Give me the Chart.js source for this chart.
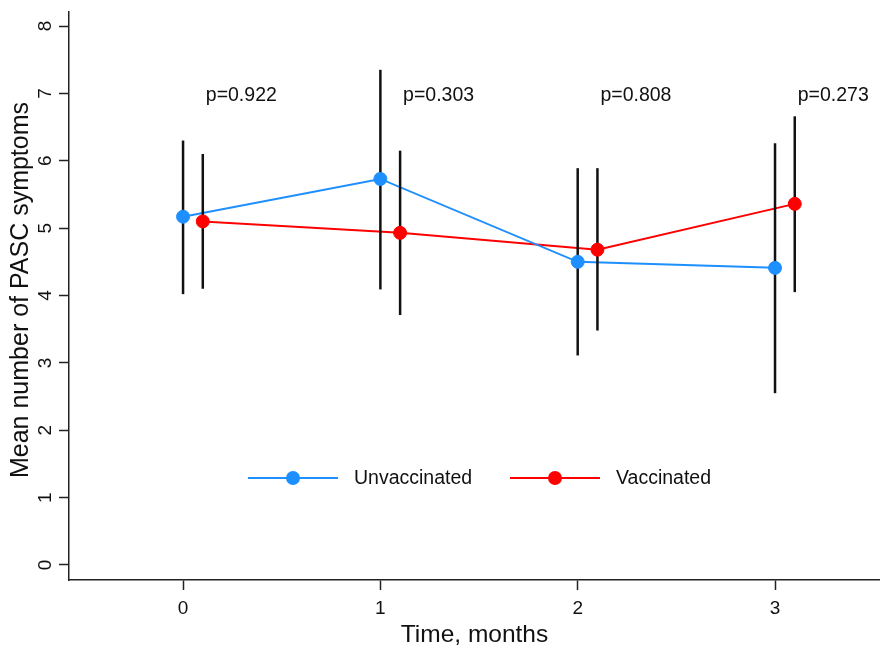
<!DOCTYPE html>
<html>
<head>
<meta charset="utf-8">
<script src="https://cdn.jsdelivr.net/npm/chart.js@4.4.1/dist/chart.umd.min.js"></script>
<style>
  html, body { margin: 0; padding: 0; background: #ffffff; }
  #wrap { width: 880px; height: 648px; position: relative; }
</style>
</head>
<body>
<div id="wrap"><canvas id="c"></canvas></div>
<script>
// ---- data ----
const months = [0, 1, 2, 3];
const vaxOffset = 0.1;
const unvaxMean  = [5.17, 5.73, 4.50, 4.41];
const unvaxLower = [4.02, 4.09, 3.11, 2.55];
const unvaxUpper = [6.30, 7.35, 5.89, 6.26];
const vaxMean    = [5.10, 4.93, 4.68, 5.36];
const vaxLower   = [4.10, 3.71, 3.48, 4.05];
const vaxUpper   = [6.10, 6.15, 5.89, 6.66];
const pLabels    = ['p=0.922', 'p=0.303', 'p=0.808', 'p=0.273'];
const pLabelY    = 6.97;
const xTicks = [0, 1, 2, 3];
const yTicks = [0, 1, 2, 3, 4, 5, 6, 7, 8];
const seriesNames = ['Unvaccinated', 'Vaccinated'];
const seriesColors = ['#1E8FFF', '#FF0000'];
const xTitle = 'Time, months';
const yTitle = 'Mean number of PASC symptoms';

const FONT = "'Liberation Sans', Arial, sans-serif";

const unvaxX = months.slice();
const vaxX = months.map(m => m + vaxOffset);

function pts(xs, ys) { return xs.map((x, i) => ({ x: x, y: ys[i] })); }

const datasets = [];
// points on top
datasets.push({ label: seriesNames[0], data: pts(unvaxX, unvaxMean), showLine: false,
  pointRadius: 6.5, pointBackgroundColor: seriesColors[0], pointBorderColor: seriesColors[0], pointBorderWidth: 1, order: 0 });
datasets.push({ label: seriesNames[1], data: pts(vaxX, vaxMean), showLine: false,
  pointRadius: 6.5, pointBackgroundColor: seriesColors[1], pointBorderColor: seriesColors[1], pointBorderWidth: 1, order: 0 });
// error bars
function addBars(xs, lo, hi) {
  xs.forEach((x, i) => {
    datasets.push({ label: 'ci', data: [{ x: x, y: lo[i] }, { x: x, y: hi[i] }], showLine: true,
      borderColor: '#111111', borderWidth: 2.5, pointRadius: 0, order: 1 });
  });
}
addBars(unvaxX, unvaxLower, unvaxUpper);
addBars(vaxX, vaxLower, vaxUpper);
// connecting lines underneath
datasets.push({ label: 'l0', data: pts(unvaxX, unvaxMean), showLine: true, borderColor: seriesColors[0],
  borderWidth: 2, pointRadius: 0, order: 2 });
datasets.push({ label: 'l1', data: pts(vaxX, vaxMean), showLine: true, borderColor: seriesColors[1],
  borderWidth: 2, pointRadius: 0, order: 2 });

const annotPlugin = {
  id: 'annot',
  afterDatasetsDraw(chart) {
    const ctx = chart.ctx;
    const xs = chart.scales.x, ys = chart.scales.y;
    ctx.save();
    ctx.fillStyle = '#111111';
    ctx.font = '19.5px ' + FONT;
    ctx.textAlign = 'left';
    ctx.textBaseline = 'middle';
    pLabels.forEach((t, i) => {
      ctx.fillText(t, xs.getPixelForValue(months[i] + vaxOffset) + 3, ys.getPixelForValue(pLabelY));
    });
    // legend
    const ly = 478;
    const items = [{ x0: 248, tx: 354 }, { x0: 510, tx: 616 }];
    items.forEach((it, i) => {
      ctx.strokeStyle = seriesColors[i];
      ctx.lineWidth = 2;
      ctx.beginPath();
      ctx.moveTo(it.x0, ly); ctx.lineTo(it.x0 + 90, ly); ctx.stroke();
      ctx.fillStyle = seriesColors[i];
      ctx.beginPath(); ctx.arc(it.x0 + 45, ly, 7, 0, Math.PI * 2); ctx.fill();
      ctx.fillStyle = '#111111';
      ctx.fillText(seriesNames[i], it.tx, ly + 1);
    });
    // y axis title
    ctx.translate(21, 290);
    ctx.rotate(-Math.PI / 2);
    ctx.textAlign = 'center';
    ctx.font = '25px ' + FONT;
    ctx.fillText(yTitle, 0, 0);
    ctx.restore();
  }
};

function zeroPad(s) { s.paddingTop = 0; s.paddingBottom = 0; s.paddingLeft = 0; s.paddingRight = 0; }

new Chart(document.getElementById('c'), {
  type: 'scatter',
  data: { datasets: datasets },
  options: {
    responsive: true,
    maintainAspectRatio: false,
    animation: false,
    events: [],
    layout: { autoPadding: false, padding: { top: 12, right: 0, left: 0, bottom: 0 } },
    plugins: { legend: { display: false }, tooltip: { enabled: false } },
    scales: {
      x: {
        type: 'linear',
        min: -0.578, max: 3.532,
        afterBuildTicks: s => { s.ticks = xTicks.map(v => ({ value: v })); },
        afterFit: s => { s.height = 68; zeroPad(s); },
        grid: { drawOnChartArea: false, drawTicks: true, tickLength: 10, color: '#222222', tickWidth: 1.5 },
        border: { display: true, color: '#222222', width: 1.5 },
        ticks: { color: '#111111', font: { family: FONT, size: 19 }, padding: 7, maxRotation: 0, autoSkip: false },
        title: { display: true, text: xTitle, color: '#111111',
          font: { family: FONT, size: 24.5, lineHeight: 1 }, padding: { top: 0, bottom: 1 } }
      },
      y: {
        type: 'linear',
        min: -0.223, max: 8.208,
        afterBuildTicks: s => { s.ticks = yTicks.map(v => ({ value: v })); },
        afterFit: s => { s.width = 69; zeroPad(s); },
        grid: { drawOnChartArea: false, drawTicks: true, tickLength: 10, color: '#222222', tickWidth: 1.5 },
        border: { display: true, color: '#222222', width: 1.5 },
        ticks: { color: '#111111', font: { family: FONT, size: 19 }, padding: 8, minRotation: 90, maxRotation: 90,
          crossAlign: 'center', autoSkip: false },
        title: { display: false }
      }
    }
  },
  plugins: [annotPlugin]
});
</script>
</body>
</html>
